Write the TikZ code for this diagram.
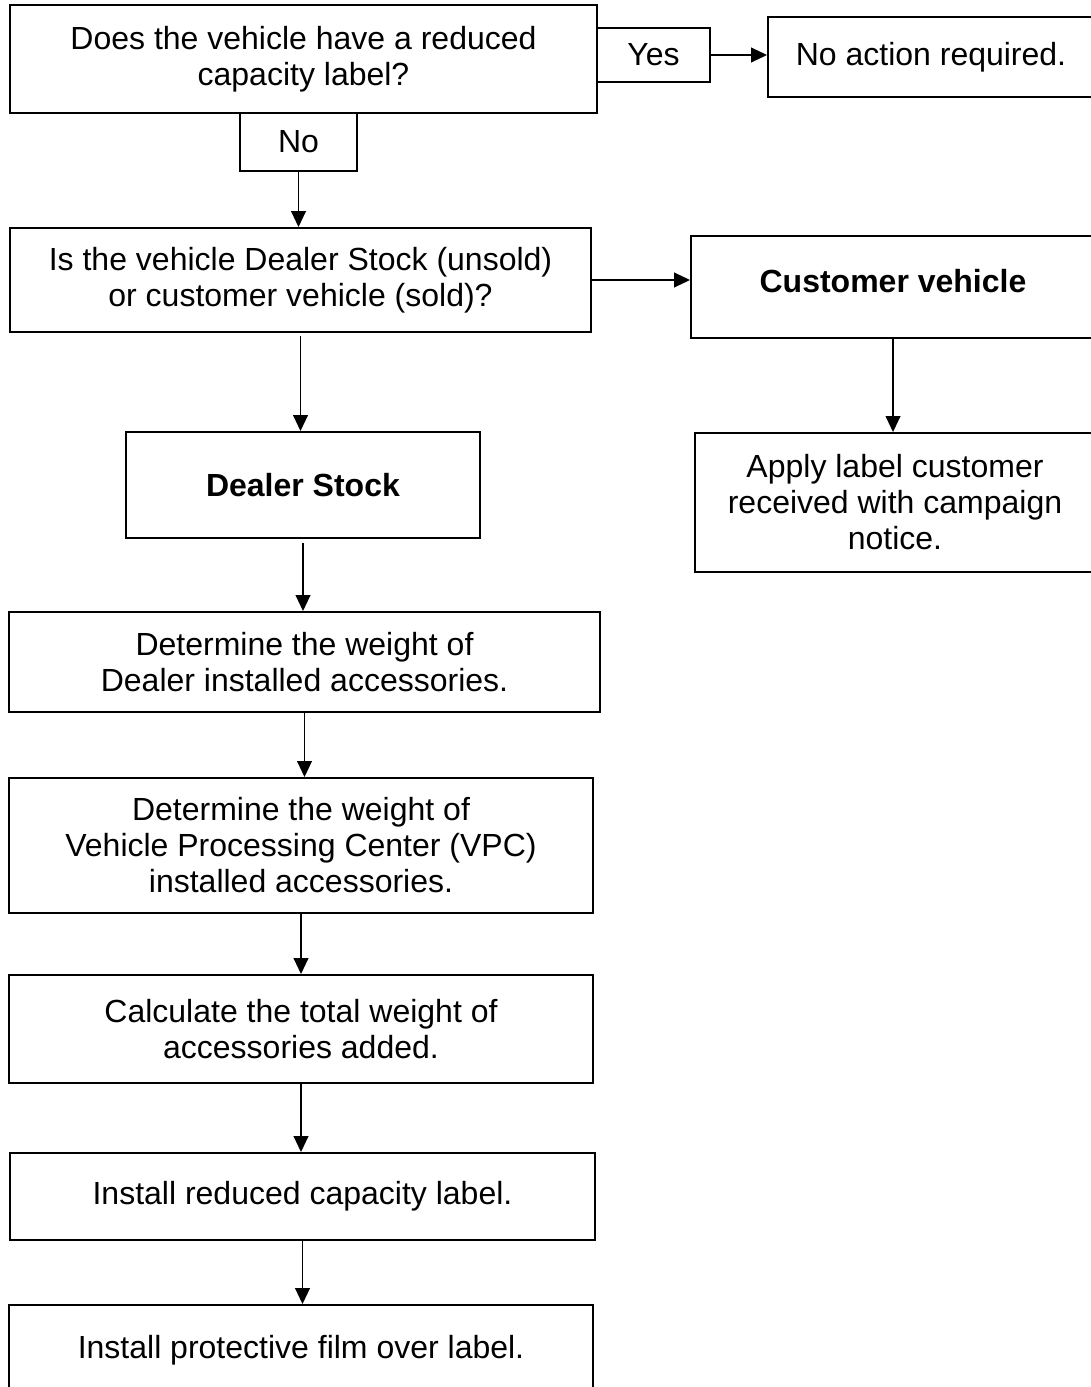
\documentclass[tikz,border=0pt]{standalone}
\usepackage{fontspec}
\setmainfont{Liberation Sans}
\usepackage{tikz}
\usetikzlibrary{arrows.meta}

\begin{document}
\begin{tikzpicture}[
			x=0.75pt, y=-0.75pt,
			box/.style={rectangle, draw=black, line width=1.4pt, fill=white, inner sep=2pt, align=center, font=\fontsize{24pt}{27pt}\selectfont},
			>={Triangle[length=12pt,width=11pt]},
		]

			\useasboundingbox (0,0) rectangle (1091,1387);

			\node[box, minimum width=440.25pt, minimum height=81pt] (question) at (303.5,59) {Does the vehicle have a reduced\\capacity label?};
			\node[box, minimum width=84.75pt, minimum height=40.5pt] (yes) at (653.5,55) {Yes};
			\node[box, minimum width=244.5pt, minimum height=60pt] (noaction) at (931,57) {No action required.};
			\node[box, minimum width=87.75pt, minimum height=43.5pt] (no) at (298.5,142) {No};

			\node[box, minimum width=435.75pt, minimum height=78pt] (stocktest) at (300.5,280) {Is the vehicle Dealer Stock (unsold)\\or customer vehicle (sold)?};
			\node[box, minimum width=303pt, minimum height=76.5pt, text depth=9pt] (customer) at (893,287) {\textbf{Customer vehicle}};
			\node[box, minimum width=300pt, minimum height=104.25pt] (apply) at (895,502.5) {Apply label customer\\received with campaign\\notice.};
			\node[box, minimum width=265.5pt, minimum height=79.5pt] (dealer) at (303,485) {\textbf{Dealer Stock}};

			\node[box, minimum width=443.25pt, minimum height=75pt] (weightdealer) at (304.5,662) {Determine the weight of\\Dealer installed accessories.};
			\node[box, minimum width=438pt, minimum height=101.25pt] (weightvpc) at (301,845.5) {Determine the weight of\\Vehicle Processing Center (VPC)\\installed accessories.};
			\node[box, minimum width=438pt, minimum height=81pt] (total) at (301,1029) {Calculate the total weight of\\accessories added.};
			\node[box, minimum width=438.75pt, minimum height=65.25pt] (install) at (302.5,1196.5) {Install reduced capacity label.};
			\node[box, minimum width=438pt, minimum height=67.5pt] (film) at (301,1350) {Install protective film over label.};

			\draw[->, line width=1.4pt] (yes.east) -- (yes.east -| noaction.west);
			\draw[->, line width=1.4pt] (no.south) -- (no.south |- stocktest.north);
			\draw[->, line width=1.4pt] (stocktest.east) -- (stocktest.east -| customer.west);
			\draw[->, line width=1.4pt] (customer.south) -- (customer.south |- apply.north);
			\draw[->, line width=1.4pt, shorten <=2pt] (stocktest.south) -- (stocktest.south |- dealer.north);
			\draw[->, line width=1.4pt, shorten <=3pt] (dealer.south) -- (dealer.south |- weightdealer.north);
			\draw[->, line width=1.4pt] (weightdealer.south) -- (weightdealer.south |- weightvpc.north);
			\draw[->, line width=1.4pt] (weightvpc.south) -- (total.north);
			\draw[->, line width=1.4pt] (total.south) -- (total.south |- install.north);
			\draw[->, line width=1.4pt] (install.south) -- (install.south |- film.north);

		\end{tikzpicture}
\end{document}
